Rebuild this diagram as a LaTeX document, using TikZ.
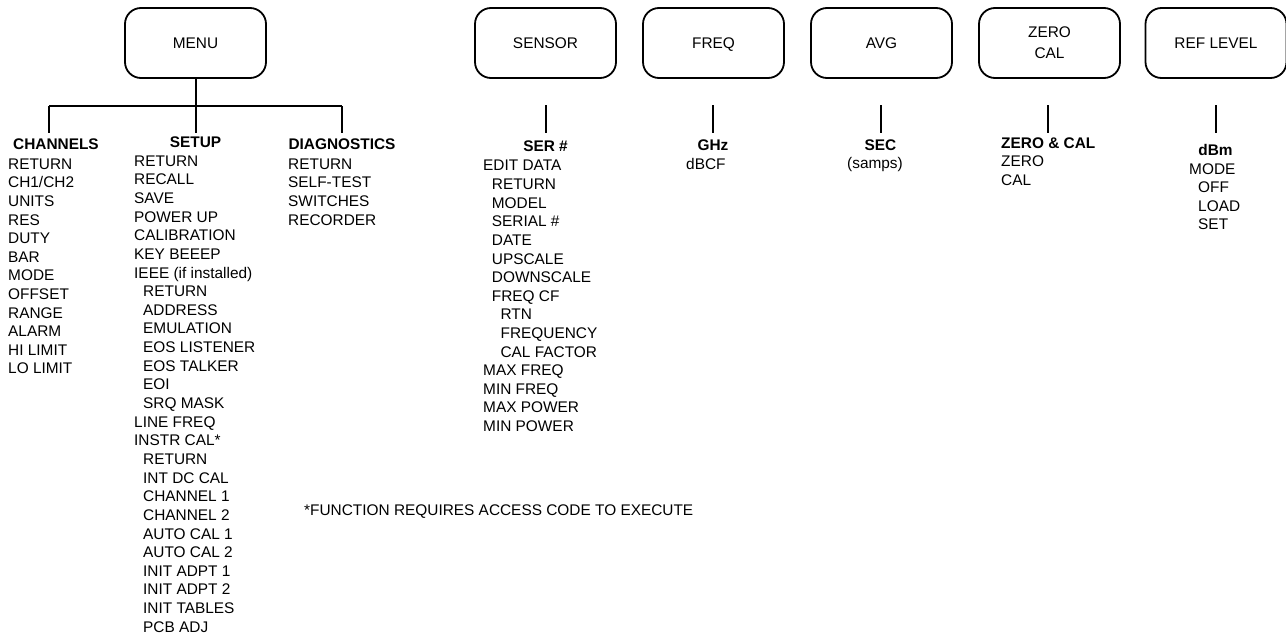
\documentclass[tikz,border=0pt]{standalone}
\usepackage{fontspec}
\setmainfont{Liberation Sans}
\newcommand{\bxs}{\rule[-3pt]{0pt}{16pt}}
\begin{document}
\begin{tikzpicture}[x=1pt,y=-1pt,
  every node/.style={inner sep=0pt, font=\fontsize{15.4}{21}\selectfont},
  keybox/.style={draw, line width=1.8pt, rounded corners=16pt, minimum width=141pt, minimum height=70pt, align=center},
  item/.style={anchor=base west},
  head/.style={anchor=base, font=\fontsize{15.4}{18}\selectfont\bfseries},
  headw/.style={anchor=base west, font=\fontsize{15.4}{18}\selectfont\bfseries},
  link/.style={line width=1.8pt}]
\useasboundingbox (0,0) rectangle (1286,637);

% top boxes
\node[keybox] (menu) at (195.5,43) {\bxs MENU};
\node[keybox] (sensor) at (545.5,43) {\bxs SENSOR};
\node[keybox] (freq) at (713.5,43) {\bxs FREQ};
\node[keybox] (avg) at (881.5,43) {\bxs AVG};
\node[keybox] (zero) at (1049.5,43) {\bxs ZERO\\\bxs CAL};
\node[keybox] (ref) at (1216,43) {\bxs REF LEVEL};

% MENU tree
\coordinate (mj) at (196,106);
\coordinate (ml) at (49,106);
\coordinate (mr) at (342,106);
\coordinate (ch0) at (49,133);
\coordinate (su0) at (196,133);
\coordinate (di0) at (342,133);
\draw[link] (menu.south -| mj) -- (mj);
\draw[link] (ml) -- (mr);
\draw[link] (ml) -- (ch0);
\draw[link] (mj) -- (su0);
\draw[link] (mr) -- (di0);

% stubs
\foreach \n/\x in {sensor/546, freq/713, avg/881, zero/1048, ref/1216} {
  \coordinate (\n top) at (\x,105);
  \coordinate (\n bot) at (\x,133);
  \draw[link] (\n top) -- (\n bot);
}

% CHANNELS
\node[head] (chh) at (56,149.6) {CHANNELS};
\foreach \t [count=\i from 0] in {RETURN,CH1/CH2,UNITS,RES,DUTY,BAR,MODE,OFFSET,RANGE,ALARM,HI LIMIT,LO LIMIT}
  \node[item] (chi\i) at (8,{169.2+18.6*\i}) {\t};

% SETUP
\node[head] (suh) at (195.5,147.6) {SETUP};
\foreach \lv/\t [count=\i from 0] in {0/RETURN,0/RECALL,0/SAVE,0/POWER UP,0/CALIBRATION,0/KEY BEEEP,0/IEEE (if installed),1/RETURN,1/ADDRESS,1/EMULATION,1/EOS LISTENER,1/EOS TALKER,1/EOI,1/SRQ MASK,0/LINE FREQ,0/INSTR CAL*,1/RETURN,1/INT DC CAL,1/CHANNEL 1,1/CHANNEL 2,1/AUTO CAL 1,1/AUTO CAL 2,1/INIT ADPT 1,1/INIT ADPT 2,1/INIT TABLES,1/PCB ADJ}
  \node[item] (sui\i) at ({134+9*\lv},{166.2+18.64*\i}) {\t};

% DIAGNOSTICS
\node[head] (dih) at (342,149.6) {DIAGNOSTICS};
\foreach \t [count=\i from 0] in {RETURN,SELF-TEST,SWITCHES,RECORDER}
  \node[item] (dii\i) at (288,{169.2+18.6*\i}) {\t};

% footnote
\node[item] (note) at (304,515.8) {*FUNCTION REQUIRES ACCESS CODE TO EXECUTE};

% SENSOR
\node[head] (seh) at (545.5,151.2) {SER \#};
\foreach \lv/\t [count=\i from 0] in {0/EDIT DATA,1/RETURN,1/MODEL,1/SERIAL \#,1/DATE,1/UPSCALE,1/DOWNSCALE,1/FREQ CF,2/RTN,2/FREQUENCY,2/CAL FACTOR,0/MAX FREQ,0/MIN FREQ,0/MAX POWER,0/MIN POWER}
  \node[item] (sei\i) at ({483+8.7*\lv},{170.9+18.62*\i}) {\t};

% FREQ
\node[head] (frh) at (713,150.6) {GHz};
\node[item] (fri) at (686,169.2) {dBCF};

% AVG
\node[head] (avh) at (880.5,150.6) {SEC};
\node[item] (avi) at (847,168.8) {(samps)};

% ZERO CAL
\node[headw] (zeh) at (1001,148.8) {ZERO \& CAL};
\node[item] (zei0) at (1001,166.8) {ZERO};
\node[item] (zei1) at (1001,185.4) {CAL};

% REF LEVEL
\node[head] (reh) at (1215.5,155.4) {dBm};
\foreach \lv/\t [count=\i from 0] in {0/MODE,1/OFF,1/LOAD,1/SET}
  \node[item] (rei\i) at ({1189+9*\lv},{174+18.6*\i}) {\t};
\end{tikzpicture}
\end{document}
